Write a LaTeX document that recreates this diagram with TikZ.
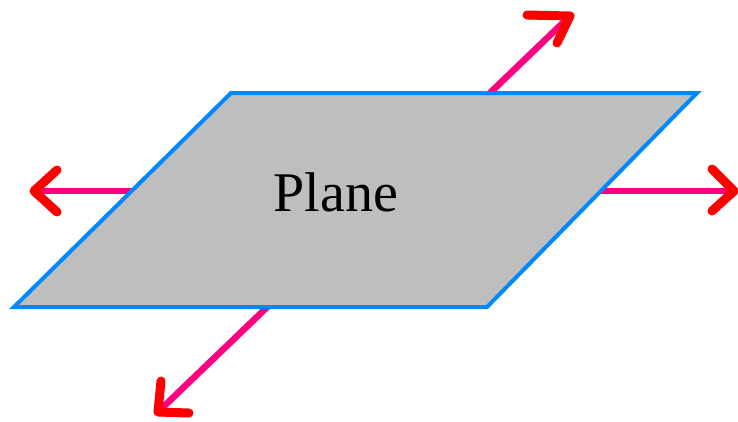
\documentclass[tikz,border=0pt]{standalone}
\usepackage{fontspec}
\setmainfont{Liberation Serif}
\definecolor{axispink}{RGB}{255,0,128}
\definecolor{headred}{RGB}{255,0,0}
\definecolor{planeblue}{RGB}{0,136,255}
\definecolor{planegray}{RGB}{190,190,190}
\begin{document}
\begin{tikzpicture}[x=1pt,y=-1pt,
  axisline/.style={draw=axispink,line width=6.5pt},
  headstroke/.style={draw=headred,line width=9pt,line cap=round,line join=round},
  planeshape/.style={draw=planeblue,fill=planegray,line width=4pt,line join=miter}]
\useasboundingbox (0,0) rectangle (738,421);
% axis end points
\coordinate (L) at (34,191);
\coordinate (R) at (734,191);
\coordinate (T) at (570,16);
\coordinate (B) at (158,412);
% plane corners
\coordinate (p1) at (231,93);
\coordinate (p2) at (697,93);
\coordinate (p3) at (487,307);
\coordinate (p4) at (14,307);
% lines (behind plane)
\draw[axisline] (L) -- (R);
\draw[axisline] (B) -- (T);
% plane
\path[planeshape] (p1) -- (p2) -- (p3) -- (p4) -- cycle;
\node (label) at (336,192) {\fontsize{56}{60}\selectfont Plane};
% arrow heads
\draw[headstroke] (57,170) -- (L) -- (57,212);
\draw[headstroke] (712,169) -- (R) -- (712,211);
\draw[headstroke] (527,15) -- (T) -- (557,43);
\draw[headstroke] (161,381) -- (B) -- (189,413);
\end{tikzpicture}
\end{document}
